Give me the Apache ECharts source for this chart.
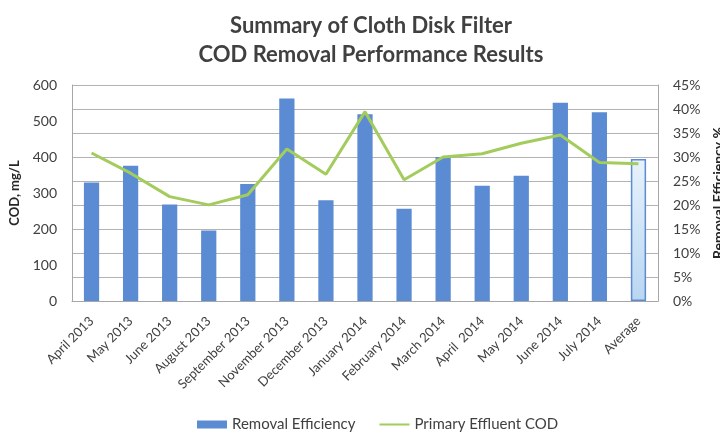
<!DOCTYPE html>
<html>
<head>
<meta charset="utf-8">
<script src="https://cdn.jsdelivr.net/npm/echarts@6/dist/echarts.min.js"></script>
<style>
  html, body { margin: 0; padding: 0; background: #fff; }
  #chart { width: 720px; height: 435px; }
</style>
</head>
<body>
<div id="chart"></div>
<script>
// Monthly sampling periods plus the overall average
const categories = [
  'April 2013', 'May 2013', 'June 2013', 'August 2013', 'September 2013',
  'November 2013', 'December 2013', 'January 2014', 'February 2014',
  'March 2014', 'April  2014', 'May 2014', 'June 2014', 'July 2014', 'Average'
];

// Removal efficiency, percent (right axis)
const removalEfficiency = [24.7, 28.2, 20.1, 14.7, 24.4, 42.2, 21.0, 38.9, 19.2, 30.0, 24.0, 26.1, 41.3, 39.3, 29.6];

// Primary effluent COD, mg/L (left axis)
const primaryEffluentCOD = [411, 355, 290, 267, 295, 422, 352, 526, 337, 400, 409, 438, 461, 385, 381];

// Axis tick settings
const codTicks = { min: 0, max: 600, interval: 100 };
const effTicks = { min: 0, max: 45, interval: 5 };

const FONT = 'Lato, "Open Sans", sans-serif';
const BAR_BLUE = '#5b8bd2';
const LINE_GREEN = '#a3cc5c';

const barData = removalEfficiency.map((v, i) => {
  if (categories[i] === 'Average') {
    return {
      value: v,
      itemStyle: {
        color: new echarts.graphic.LinearGradient(0, 0, 0, 1, [
          { offset: 0, color: '#e8f2fb' },
          { offset: 1, color: '#b9d6f2' }
        ]),
        borderColor: '#5b8bd2',
        borderWidth: 1.5
      }
    };
  }
  return v;
});

const chart = echarts.init(document.getElementById('chart'), null, { renderer: 'canvas' });

chart.setOption({
  animation: false,
  textStyle: { fontFamily: FONT },
  title: {
    text: 'Summary of Cloth Disk Filter\nCOD Removal Performance Results',
    left: 366,
    top: 6,
    textAlign: 'center',
    textStyle: {
      fontFamily: FONT,
      fontSize: 22,
      fontWeight: 'bold',
      color: '#404040',
      lineHeight: 29
    }
  },
  grid: { left: 72, right: 62, top: 85, bottom: 134, outerBoundsMode: 'none', containLabel: false },
  legend: {
    top: 412,
    left: 192,
    itemGap: 24,
    itemWidth: 30,
    itemHeight: 8,
    textStyle: { fontFamily: FONT, fontSize: 15, color: '#404040' },
    data: [
      { name: 'Removal Efficiency', icon: 'rect' },
      { name: 'Primary Effluent COD', icon: 'path://M0,0 L30,0 L30,2 L0,2 Z' }
    ]
  },
  xAxis: {
    type: 'category',
    data: categories,
    boundaryGap: true,
    axisLine: { show: true, lineStyle: { color: '#a6a6a6' } },
    axisTick: { show: false },
    axisLabel: {
      rotate: 45,
      interval: 0,
      fontFamily: FONT,
      fontSize: 13,
      color: '#404040',
      margin: 18
    }
  },
  yAxis: [
    {
      type: 'value',
      position: 'left',
      min: codTicks.min,
      max: codTicks.max,
      interval: codTicks.interval,
      name: 'COD, mg/L',
      nameLocation: 'middle',
      nameRotate: 90,
      nameGap: 48,
      nameTextStyle: { fontFamily: FONT, fontSize: 13, fontWeight: 'bold', color: '#262626' },
      axisLine: { show: true, lineStyle: { color: '#a6a6a6' } },
      axisTick: { show: false },
      splitLine: { show: false },
      axisLabel: { fontFamily: FONT, fontSize: 14, color: '#404040', margin: 15 }
    },
    {
      type: 'value',
      position: 'right',
      min: effTicks.min,
      max: effTicks.max,
      interval: effTicks.interval,
      name: 'Removal Efficiency %',
      nameLocation: 'middle',
      nameRotate: 90,
      nameGap: 51,
      nameTextStyle: { fontFamily: FONT, fontSize: 14, fontWeight: 'bold', color: '#262626' },
      axisLine: { show: true, lineStyle: { color: '#a6a6a6' } },
      axisTick: { show: false },
      splitLine: { show: true, lineStyle: { color: '#b3b3b3', width: 1 } },
      axisLabel: { fontFamily: FONT, fontSize: 14, color: '#404040', margin: 15, formatter: '{value}%' }
    }
  ],
  series: [
    {
      name: 'Removal Efficiency',
      type: 'bar',
      yAxisIndex: 1,
      data: barData,
      barWidth: '39%',
      itemStyle: { color: BAR_BLUE }
    },
    {
      name: 'Primary Effluent COD',
      type: 'line',
      yAxisIndex: 0,
      data: primaryEffluentCOD,
      symbol: 'none',
      lineStyle: { color: LINE_GREEN, width: 3 },
      itemStyle: { color: LINE_GREEN }
    }
  ]
});
</script>
</body>
</html>
